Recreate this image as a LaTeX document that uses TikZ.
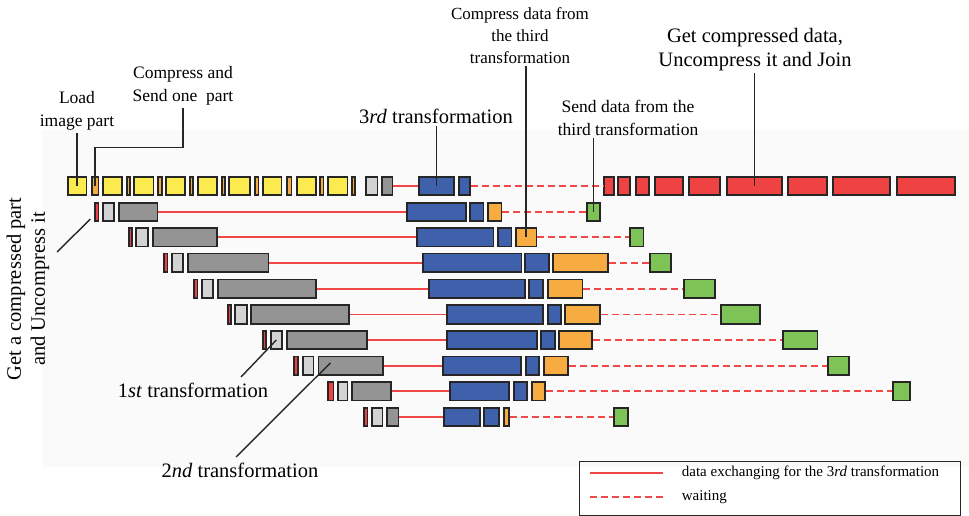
\documentclass[tikz,border=0pt]{standalone}
\usepackage{fontspec}
\setmainfont{Liberation Serif}
\usepackage{tikz}
\usetikzlibrary{positioning,calc}
\definecolor{partyellow}{HTML}{FBEB4F}
\definecolor{partorange}{HTML}{F7AC42}
\definecolor{partblue}{HTML}{3F60AA}
\definecolor{partgrey}{HTML}{949494}
\definecolor{partlight}{HTML}{D3D3D3}
\definecolor{partred}{HTML}{EF4343}
\definecolor{partgreen}{HTML}{7DC356}
\definecolor{linkred}{HTML}{F04848}

\begin{document}
\begin{tikzpicture}[x=1pt,y=-1pt,
  blk/.style={draw=black!85,line width=1.8pt,minimum height=18.5,inner sep=0pt},
  yel/.style={fill=partyellow},
  org/.style={fill=partorange},
  blu/.style={fill=partblue},
  gry/.style={fill=partgrey},
  lgry/.style={fill=partlight},
  rd/.style={fill=partred},
  grn/.style={fill=partgreen},
  dl/.style={linkred,line width=1.7pt},
  dw/.style={linkred,line width=1.7pt,dash pattern=on 7pt off 4pt},
  tag/.style={black!85,line width=1.4pt},
  lbl/.style={font=\fontsize{17.5}{23}\selectfont,align=center,inner sep=2pt},
  big/.style={font=\fontsize{20.5}{24}\selectfont,align=center,inner sep=2pt}]

  \useasboundingbox (0,0) rectangle (969,516);
  \fill[black!2] (42,130) rectangle (969,467);

  % top row: load, compress, send
  \foreach \n/\s/\a/\b in {y1/yel/66.7/87.3, o1/org/90.7/99.3, y2/yel/101.7/122.7, o2/org/126/131,
      y3/yel/133.3/154.3, o3/org/157.3/162.7, y4/yel/165/186, o4/org/189.3/194,
      y5/yel/196.7/217.7, o5/org/220.7/225.7, y6/yel/228.3/251, o6/org/254/259.3,
      y7/yel/262/282.3, o7/org/286/292.3, y8/yel/295.7/316.7, o8/org/319.3/324.3,
      y9/yel/326.7/348.3, o9/org/351/356, l/lgry/365/378.3, g/gry/381/393.3,
      b1/blu/418.3/455, b2/blu/457.7/470.7,
      d1/rd/603.3/615, d2/rd/617.3/630.7, d3/rd/635/650, d4/rd/654.3/684, d5/rd/688.3/721,
      d6/rd/726/782.7, d7/rd/787.3/827.7, d8/rd/832.3/890.7, d9/rd/896/956}
    \node[blk,\s,minimum width=\b-\a-1.8] (r0-\n) at ({(\a+\b)/2},186) {};

  % transformations
  \foreach \n/\s/\a/\b in {r/rd/94.3/99.3, l/lgry/102.3/115, g/gry/118.3/158.3, b1/blu/406/466.7,
      b2/blu/469.3/484.3, o/org/487.3/502.3, n/grn/586/600.7}
    \node[blk,\s,minimum width=\b-\a-1.8] (r1-\n) at ({(\a+\b)/2},212) {};
  \foreach \n/\s/\a/\b in {r/rd/127.7/132.7, l/lgry/135/149, g/gry/151.7/217.7, b1/blu/416/494.3,
      b2/blu/497/512.3, o/org/515/537.3, n/grn/629.3/644.3}
    \node[blk,\s,minimum width=\b-\a-1.8] (r2-\n) at ({(\a+\b)/2},237.2) {};
  \foreach \n/\s/\a/\b in {r/rd/163/168.3, l/lgry/171/183.7, g/gry/186.7/269.3, b1/blu/421.7/522.3,
      b2/blu/524.3/549.7, o/org/552.3/609, n/grn/649.3/672}
    \node[blk,\s,minimum width=\b-\a-1.8] (r3-\n) at ({(\a+\b)/2},262.8) {};
  \foreach \n/\s/\a/\b in {r/rd/192.7/198.3, l/lgry/200.7/214, g/gry/216.7/316.7, b1/blu/427.7/526,
      b2/blu/528.3/544, o/org/546.7/583.3, n/grn/682.7/715.5}
    \node[blk,\s,minimum width=\b-\a-1.8] (r4-\n) at ({(\a+\b)/2},288.7) {};
  \foreach \n/\s/\a/\b in {r/rd/226.7/231.7, l/lgry/234/247.7, g/gry/250/350, b1/blu/445.7/544,
      b2/blu/546.7/561.7, o/org/564.3/601, n/grn/720/761}
    \node[blk,\s,minimum width=\b-\a-1.8] (r5-\n) at ({(\a+\b)/2},314.5) {};
  \foreach \n/\s/\a/\b in {r/rd/262.3/266.7, l/lgry/270/282.7, g/gry/285.7/367.7, b1/blu/445.7/537.7,
      b2/blu/540/555.7, o/org/558.3/593, n/grn/781.7/818.3}
    \node[blk,\s,minimum width=\b-\a-1.8] (r6-\n) at ({(\a+\b)/2},340) {};
  \foreach \n/\s/\a/\b in {r/rd/293.3/299, l/lgry/301.7/314.3, g/gry/317.5/383.5, b1/blu/442/522,
      b2/blu/525/539.7, o/org/542.8/569, n/grn/826.7/850}
    \node[blk,\s,minimum width=\b-\a-1.8] (r7-\n) at ({(\a+\b)/2},365.8) {};
  \foreach \n/\s/\a/\b in {r/rd/327.3/334.3, l/lgry/336.7/348.3, g/gry/350.7/391.7, b1/blu/449.3/510,
      b2/blu/512.7/527.7, o/org/530.7/545.7, n/grn/892/911}
    \node[blk,\s,minimum width=\b-\a-1.8] (r8-\n) at ({(\a+\b)/2},391.3) {};
  \foreach \n/\s/\a/\b in {r/rd/362.7/368.3, l/lgry/370.7/383.3, g/gry/386/399.3, b1/blu/443.3/480.7,
      b2/blu/483.3/500, o/org/502.7/510, n/grn/613.3/629}
    \node[blk,\s,minimum width=\b-\a-1.8] (r9-\n) at ({(\a+\b)/2},417) {};

  % exchanging and waiting
  \draw[dl] (r0-g.east) -- (r0-b1.west);
  \draw[dw] (r0-b2.east) -- (r0-d1.west);
  \foreach \k in {1,...,9} {
    \draw[dl] (r\k-g.east) -- (r\k-b1.west);
    \draw[dw] (r\k-o.east) -- (r\k-n.west);
  }

  % labels
  \node[lbl] (tLoad) at (77,111) {Load\\image part};
  \node[lbl] (tSend) at (183,86) {Compress and\\Send one\ \ part};
  \node[big] (t3rd) at (436,116) {3\textit{rd} transformation};
  \node[lbl,font=\fontsize{17}{22}\selectfont] (tCmp) at (520,36) {Compress data from\\the third\\transformation};
  \node[lbl] (tSnd) at (628,118) {Send data from the\\third transformation};
  \node[big] (tJoin) at (755,50) {Get compressed data,\\Uncompress it and Join};
  \node[big,rotate=90] (tGet) at (28,289) {Get a compressed part\\and Uncompress it};
  \node[big] (t1st) at (193,390) {1\textit{st} transformation};
  \node[big] (t2nd) at (240,470) {2\textit{nd} transformation};

  \coordinate (kSend) at (95,147.7);
  \coordinate (kGet) at (57,252);
  \coordinate (k1st) at (241,377);
  \coordinate (k2nd) at (236,457);
  \draw[tag] (r0-y1.center) -- (r0-y1.center |- tLoad.south);
  \draw[tag] (tSend.south) |- (kSend) -- (r0-o1.center);
  \draw[tag] (r0-b1.center) -- (r0-b1.center |- t3rd.south);
  \draw[tag] (r2-o.center) -- (r2-o.center |- tCmp.south);
  \draw[tag] (r1-n.center) -- (r1-n.center |- tSnd.south);
  \draw[tag] (r0-d6.center) -- (r0-d6.center |- tJoin.south);
  \draw[tag] (kGet) -- ($(r1-r.south west)+(-4,-3)$);
  \draw[tag] (k1st) -- (r6-l.center);
  \draw[tag] (k2nd) -- ($(r7-g.west)+(13,-3)$);

  % legend
  \node[draw=black!85,line width=1.3pt,minimum width=381,minimum height=54,anchor=north west,inner sep=0pt]
    (legend) at (578.8,460.5) {};
  \coordinate (kSolidA) at (590,473.3);
  \coordinate (kSolidB) at (663.3,473.3);
  \coordinate (kDashA) at (590,497.3);
  \coordinate (kDashB) at (663.3,497.3);
  \draw[dl] (kSolidA) -- (kSolidB);
  \draw[dw] (kDashA) -- (kDashB);
  \node[anchor=west,inner sep=0pt,font=\fontsize{15}{18}\selectfont] (tData) at (681.7,473.3)
    {data exchanging for the 3\textit{rd} transformation};
  \node[anchor=west,inner sep=0pt,font=\fontsize{15}{18}\selectfont] (tWait) at (681.7,497.3) {waiting};
\end{tikzpicture}
\end{document}
